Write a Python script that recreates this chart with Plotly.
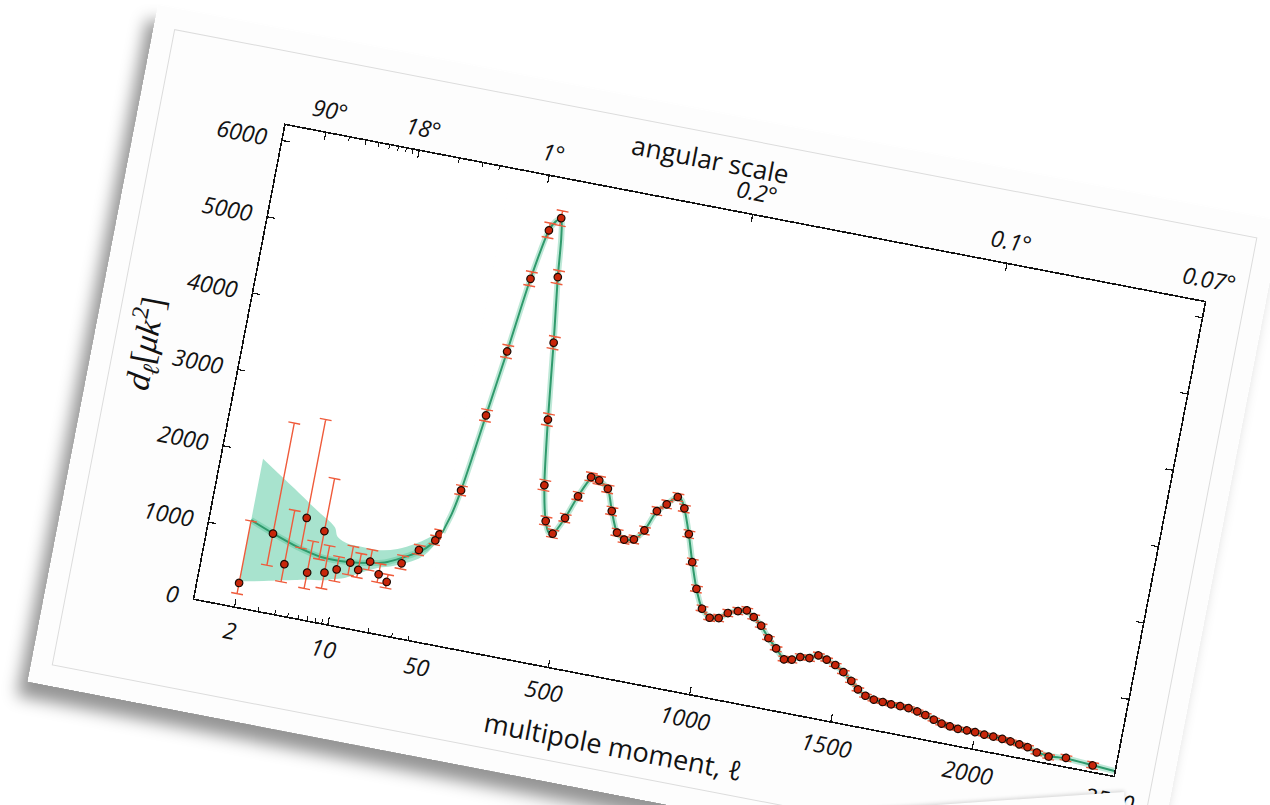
import math
import plotly.graph_objects as go

# ---------------- data ----------------
# low-ell section (log axis, ell 2..50)
low_ell = [2, 3, 4, 5, 6, 7, 8, 9.7, 11.9, 13.9, 16.5, 19.8, 23.2, 28, 35.8, 45.6, 47.9]
low_dl = [306, 1012, 653, 1292, 602, 1168, 645, 714, 834, 761, 895, 755, 678, 950, 1160, 1322, 1407]
low_err_plus = [812, 1448, 705, 1289, 411, 689, 352, 166, 213, 213, 154, 136, 96, 99, 60, 55, 55]
low_err_minus = [139, 415, 229, 394, 207, 370, 207, 154, 160, 98, 111, 105, 79, 73, 60, 55, 55]

# high-ell section (linear axis, ell 50..2500)
high_ell = [86, 122, 152, 184, 215, 249, 276, 305, 336, 367,
            395, 427, 459, 489, 521, 551, 586, 614, 646, 675,
            708, 738, 768, 797, 830, 860, 892, 922, 954, 986,
            1018, 1049, 1077, 1110, 1140, 1168, 1199, 1232, 1265, 1299,
            1326, 1353, 1385, 1414, 1445, 1478, 1510, 1543, 1571, 1601,
            1632, 1664, 1694, 1726, 1756, 1788, 1818, 1850, 1879, 1909,
            1938, 1970, 1999, 2032, 2064, 2096, 2126, 2158, 2188, 2223,
            2266, 2326, 2422]
high_dl = [2016, 3023, 3882, 4857, 5513, 5697, 4945, 4106, 3120, 2283,
           1834, 1691, 1919, 2225, 2500, 2478, 2393, 2121, 1861, 1790,
           1816, 1956, 2230, 2339, 2459, 2331, 2017, 1672, 1345, 1107,
           1011, 1029, 1115, 1164, 1195, 1127, 1036, 898, 786, 666,
           682, 736, 745, 800, 767, 720, 650, 558, 467, 405,
           376, 368, 359, 359, 354, 333, 307, 269, 238, 224,
           212, 214, 212, 203, 200, 193, 181, 165, 150, 105,
           82, 108, 77]
high_err = [60, 75, 80, 90, 95, 95, 85, 80, 75, 65,
            55, 50, 50, 50, 55, 55, 50, 50, 45, 45,
            45, 45, 45, 45, 45, 45, 45, 40, 40, 35,
            35, 35, 35, 35, 35, 35, 30, 30, 30, 30,
            30, 30, 30, 30, 30, 30, 30, 30, 30, 30,
            28, 28, 28, 28, 28, 28, 28, 28, 28, 28,
            28, 28, 28, 28, 28, 28, 28, 28, 30, 30,
            32, 35, 40]

# best-fit model curve
model_low_ell = [2, 3, 4.7, 7.2, 11.4, 17.8, 22, 33.6, 40, 45.6, 50]
model_low_dl = [1129, 1015, 903, 833, 835, 887, 932, 1103, 1200, 1322, 1440]
model_high_ell = [50, 57, 70, 86, 104, 122, 152, 184, 215, 232, 249, 262, 276, 305, 336, 367,
                  395, 412, 427, 459, 489, 521, 540, 551, 586, 614, 646, 675, 708, 738,
                  768, 797, 825, 845, 860, 892, 922, 954, 986, 1018, 1049, 1077, 1110,
                  1135, 1168, 1199, 1232, 1265, 1299, 1326, 1353, 1385, 1414, 1445, 1478,
                  1510, 1543, 1571, 1601, 1632, 1664, 1694, 1726, 1756, 1788, 1818, 1850,
                  1879, 1909, 1938, 1970, 1999, 2032, 2064, 2096, 2126, 2158, 2188, 2223,
                  2266, 2326, 2422, 2500]
model_high_dl = [1440, 1530, 1700, 2016, 2500, 3023, 3882, 4857, 5513, 5640, 5690, 5450, 4945, 4106, 3120, 2283,
                 1834, 1700, 1691, 1919, 2225, 2480, 2510, 2478, 2393, 2121, 1861, 1790, 1816, 1956,
                 2230, 2339, 2450, 2430, 2331, 2017, 1672, 1345, 1107, 1011, 1029, 1115, 1164,
                 1185, 1127, 1036, 898, 786, 670, 690, 736, 760, 790, 767, 715,
                 650, 555, 467, 405, 376, 368, 359, 359, 354, 333, 307, 269,
                 238, 222, 212, 213, 212, 203, 200, 193, 181, 165, 150, 110,
                 90, 100, 80, 60]

# cosmic-variance band at low ell
band_ell = [2, 3, 4, 5, 6, 8.2, 8.9, 10.8, 12, 15, 19, 25, 33, 40, 50]
band_up = [1934, 1736, 1596, 1486, 1397, 1245, 1127, 1067, 1062, 1060, 1064, 1120, 1229, 1330, 1480]
band_lo = [327, 390, 442, 480, 510, 548, 570, 610, 645, 740, 830, 900, 1000, 1110, 1400]

# axis ticks
bottom_log_ticks = [2, 10]
bottom_log_labels = ["2", "10"]
bottom_lin_ticks = [50, 500, 1000, 1500, 2000, 2500]
bottom_lin_labels = ["50", "500", "1000", "1500", "2000", "2500"]
minor_log_ticks = [3, 4, 5, 6, 7, 8, 9, 20, 30, 40]
top_log_ticks = [2, 10]
top_log_labels = ["90°", "18°"]
top_lin_ticks = [180, 900, 1800, 2500]
top_lin_labels = ["1°", "0.2°", "0.1°", "0.07°"]
y_ticks = [0, 1000, 2000, 3000, 4000, 5000, 6000]

# ---------------- styling ----------------
GREEN = "#2f9a6c"
RED = "#c8260a"
ERR = "#ef5b3b"
INK = "#121212"
SPLIT = 231 / 936
tickfont = dict(family="Open Sans", size=23, style="italic", color=INK)

fig = go.Figure()

# band
fig.add_trace(go.Scatter(x=band_ell, y=band_lo, xaxis="x", yaxis="y", mode="lines",
                         line=dict(width=0, shape="spline"), hoverinfo="skip", showlegend=False))
fig.add_trace(go.Scatter(x=band_ell, y=band_up, xaxis="x", yaxis="y", mode="lines",
                         line=dict(width=0, shape="spline"), fill="tonexty",
                         fillcolor="rgba(70,196,150,0.47)", hoverinfo="skip", showlegend=False))

# model curve (halo + line)
for xs, ys, xa in [(model_low_ell, model_low_dl, "x"), (model_high_ell, model_high_dl, "x2")]:
    fig.add_trace(go.Scatter(x=xs, y=ys, xaxis=xa, yaxis="y", mode="lines",
                             line=dict(color="rgba(70,190,140,0.35)", width=6, shape="spline", smoothing=0.7),
                             hoverinfo="skip", showlegend=False))
    fig.add_trace(go.Scatter(x=xs, y=ys, xaxis=xa, yaxis="y", mode="lines",
                             line=dict(color=GREEN, width=2, shape="spline", smoothing=0.7),
                             showlegend=False))

# data points
fig.add_trace(go.Scatter(x=low_ell, y=low_dl, xaxis="x", yaxis="y", mode="markers",
                         marker=dict(size=7.5, color=RED, line=dict(color="#1a0a04", width=1.2)),
                         error_y=dict(type="data", symmetric=False, array=low_err_plus,
                                      arrayminus=low_err_minus, color=ERR, thickness=1.4, width=6),
                         showlegend=False))
fig.add_trace(go.Scatter(x=high_ell, y=high_dl, xaxis="x2", yaxis="y", mode="markers",
                         marker=dict(size=7.5, color=RED, line=dict(color="#1a0a04", width=1.2)),
                         error_y=dict(type="data", array=high_err, color=ERR, thickness=1.4, width=6),
                         showlegend=False))

# empty traces to make sure the top / right axes exist
fig.add_trace(go.Scatter(x=[], y=[], xaxis="x3", yaxis="y", showlegend=False, hoverinfo="skip"))
fig.add_trace(go.Scatter(x=[], y=[], xaxis="x4", yaxis="y2", showlegend=False, hoverinfo="skip"))

axis_common = dict(showgrid=False, zeroline=False, showline=True, linecolor=INK, linewidth=1.6,
                   ticks="inside", tickcolor=INK, tickwidth=1.2, ticklen=7, tickfont=tickfont)

fig.update_layout(
    width=1144, height=689,
    margin=dict(l=148, r=60, t=94, b=113, pad=0),
    paper_bgcolor="#fdfdfd", plot_bgcolor="#ffffff",
    showlegend=False,
    xaxis=dict(type="log", domain=[0, SPLIT], range=[0, math.log10(50)], anchor="y",
               tickmode="array", tickvals=bottom_log_ticks, ticktext=bottom_log_labels,
               minor=dict(ticks="inside", tickmode="array", tickvals=minor_log_ticks, ticklen=4,
                          tickcolor=INK, tickwidth=1),
               ticklabelstandoff=4, **axis_common),
    xaxis2=dict(type="linear", domain=[SPLIT, 1], range=[50, 2500], anchor="y",
                tickmode="array", tickvals=bottom_lin_ticks, ticktext=bottom_lin_labels,
                ticklabelstandoff=4, **axis_common),
    xaxis3=dict(type="log", overlaying="x", side="top", range=[0, math.log10(50)], anchor="y",
                tickmode="array", tickvals=top_log_ticks, ticktext=top_log_labels,
                minor=dict(ticks="inside", tickmode="array", tickvals=minor_log_ticks, ticklen=4,
                           tickcolor=INK, tickwidth=1),
                ticklabelstandoff=4, **axis_common),
    xaxis4=dict(type="linear", overlaying="x2", side="top", range=[50, 2500], anchor="y2",
                tickmode="array", tickvals=top_lin_ticks, ticktext=top_lin_labels,
                ticklabelstandoff=4, **axis_common),
    yaxis=dict(range=[0, 6200], anchor="x", tickmode="array", tickvals=y_ticks,
               ticklabelstandoff=10, **axis_common),
    yaxis2=dict(range=[0, 6200], overlaying="y", side="right", anchor="x2", tickmode="array",
                tickvals=y_ticks, showticklabels=False, **axis_common),
    annotations=[
        dict(text="angular scale", xref="paper", yref="paper", x=0.452, y=1.097,
             showarrow=False, xanchor="center", yanchor="middle",
             font=dict(family="Open Sans", size=26, color=INK)),
        dict(text="multipole moment, <i>ℓ</i>", xref="paper", yref="paper", x=0.469, y=-0.135,
             showarrow=False, xanchor="center", yanchor="middle",
             font=dict(family="Open Sans", size=27, color=INK)),
        dict(text="<i>d</i><sub><i>ℓ</i></sub>[<i>μk</i><sup>2</sup>]", xref="paper", yref="paper",
             x=-0.104, y=0.5, textangle=-90, showarrow=False, xanchor="center", yanchor="middle",
             font=dict(family="Liberation Serif", size=34, color=INK)),
    ],
    shapes=[dict(type="rect", xref="paper", yref="paper", x0=-0.1357, x1=1.0417, y0=-0.1909, y1=1.1515,
                 line=dict(color="#dcdcdc", width=1), layer="below")],
)

post = """
var gd = document.getElementById('{plot_id}');
var de = document.documentElement, b = document.body;
de.style.overflow = 'hidden'; b.style.overflow = 'hidden';
b.style.margin = '0'; b.style.background = '#ffffff';
gd.style.position = 'fixed'; gd.style.left = '158px'; gd.style.top = '5px';
gd.style.transformOrigin = '0 0'; gd.style.transform = 'rotate(10.9deg)';
gd.style.boxShadow = '-8px 16px 16px rgba(0,0,0,0.42)';
var s = document.createElement('div');
s.style.cssText = 'position:fixed;left:780px;top:816px;width:345px;height:80px;background:#fdfdfd;' +
  'transform-origin:0 0;transform:rotate(-4deg);box-shadow:0 -1px 4px rgba(0,0,0,0.18);z-index:10;';
b.appendChild(s);
"""

fig.write_html("out.html", config={"displayModeBar": False, "staticPlot": True}, post_script=post)
